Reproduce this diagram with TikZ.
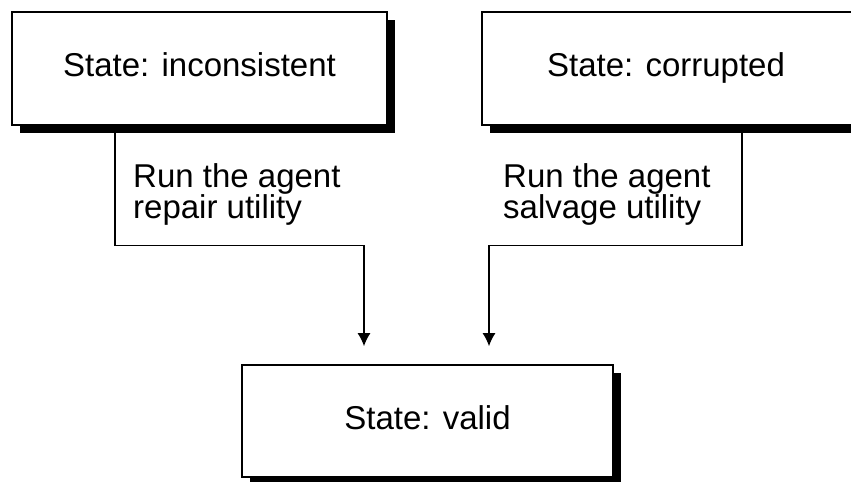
\documentclass[tikz,border=0pt]{standalone}
\usepackage{fontspec}
\setmainfont{Liberation Sans}
\usetikzlibrary{shadows,arrows.meta}
\begin{document}
\begin{tikzpicture}[x=1bp,y=-1bp,
  txt/.style={font=\fontsize{33bp}{31bp}\selectfont, inner sep=0pt},
  box/.style={draw=black, line width=1.6bp, fill=white, inner sep=0pt,
    drop shadow={shadow xshift=8bp, shadow yshift=-8bp, fill=black, opacity=1},
    txt, text height=23bp, text depth=7bp},
  boxtext/.style={txt, text height=23bp, text depth=7bp},
  lbl/.style={txt, align=left, anchor=north west},
  conn/.style={line width=1.4bp, -{Latex[length=13bp,width=13bp]}}]
\useasboundingbox (0,0) rectangle (851,482);
\fill[white] (0,0) rectangle (851,482);
\node[box, minimum width=375bp, minimum height=113bp] (b1) at (199.5,68.5) {State: inconsistent};
\node[box, minimum width=388bp, minimum height=113bp] (b2) at (676,68.5) {};
\node[boxtext] (t2) at (666,68.5) {State: corrupted};
\node[box, minimum width=371bp, minimum height=112bp] (b3) at (427.5,421) {State: valid};
\draw[conn] ([xshift=-84.5bp]b1.south) -- ++(0,120) -| ([xshift=-63.5bp,yshift=18bp]b3.north);
\draw[conn] ([xshift=66bp]b2.south) -- ++(0,120) -| ([xshift=61.5bp,yshift=18bp]b3.north);
\node[lbl] (l1) at (133,163) {Run the agent\\repair utility};
\node[lbl] (l2) at (503,163) {Run the agent\\salvage utility};
\end{tikzpicture}
\end{document}
